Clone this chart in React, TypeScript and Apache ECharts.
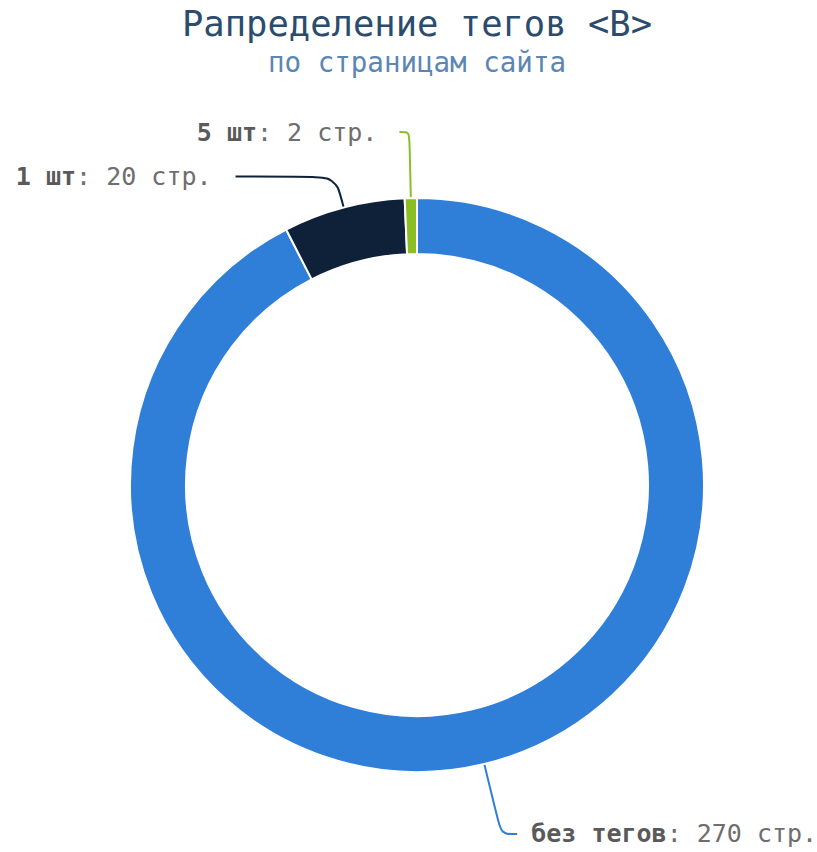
import React, { useEffect, useRef } from "react";
import * as echarts from "echarts";

const categories = ["без тегов", "1 шт", "5 шт"];
const values = [270, 20, 2];
const colors = ["#2f7fd9", "#0f2139", "#8bbd25"];
const lineLengths = [[72, 16], [32, 100], [66, 10]];
const labelGaps = [14, 24, 22];

export default function App() {
  const ref = useRef<HTMLDivElement>(null);
  useEffect(() => {
    if (!ref.current) return;
    const chart = echarts.init(ref.current, null, { renderer: "svg" });
    const font = "'DejaVu Sans Mono', monospace";
    chart.setOption({
      animation: false,
      textStyle: { fontFamily: font },
      title: {
        text: "Рапределение тегов <B>",
        subtext: "по страницам сайта",
        left: 412,
        textAlign: "center",
        top: 0,
        itemGap: 7,
        textStyle: { fontFamily: font, fontSize: 35.5, fontWeight: "normal", color: "#2b4c6d" },
        subtextStyle: { fontFamily: font, fontSize: 27.5, color: "#5b86b4" },
      },
      series: [
        {
          type: "pie",
          center: [417, 485],
          radius: [231, 287],
          startAngle: 90,
          clockwise: true,
          avoidLabelOverlap: false,
          itemStyle: { borderColor: "#ffffff", borderWidth: 2 },
          label: {
            show: true,
            fontFamily: font,
            fontSize: 25,
            color: "#6e6e6e",
            formatter: (p: any) => `{b|${p.name}}: ${p.value} стр.`,
            rich: {
              b: { fontFamily: font, fontSize: 25, fontWeight: "bold", color: "#5a5a5a" },
            },
          },
          labelLine: { show: true, smooth: 0.3, lineStyle: { width: 2 } },
          data: categories.map((c, i) => ({
            name: c,
            value: values[i],
            itemStyle: { color: colors[i] },
            label: { distanceToLabelLine: labelGaps[i] },
            labelLine: { length: lineLengths[i][0], length2: lineLengths[i][1] },
          })),
        },
      ],
    });
    return () => chart.dispose();
  }, []);
  return (
    <div
      ref={ref}
      style={{ position: "absolute", left: 0, top: 0, width: 817, height: 852 }}
    />
  );
}
